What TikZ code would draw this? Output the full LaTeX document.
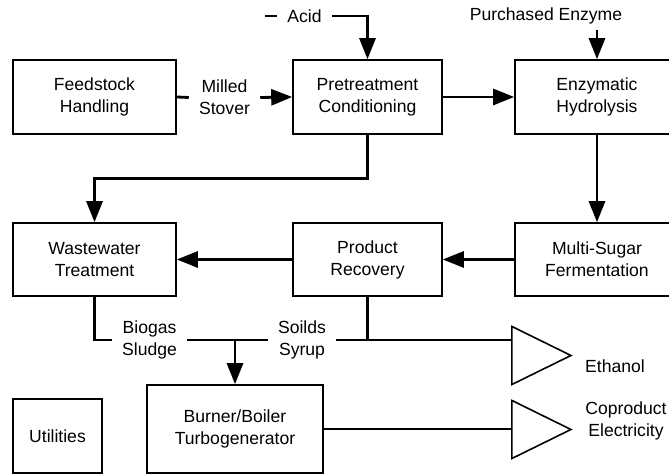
\documentclass[tikz,border=0pt]{standalone}
\usepackage{fontspec}
\setmainfont{Liberation Sans}
\usetikzlibrary{arrows.meta,shapes.geometric}

\begin{document}
\begin{tikzpicture}[
    font=\fontsize{10}{12.5}\selectfont,
    block/.style={shape=rectangle, draw, line width=0.9pt, inner sep=0, minimum height=1.48cm, align=center},
    tag/.style={align=center, inner xsep=0.2cm, inner ysep=0.1cm},
    outlet/.style={shape=isosceles triangle, draw, line width=0.9pt, isosceles triangle stretches, inner sep=0, minimum width=1.16cm, minimum height=1.18cm},
    flow/.style={line width=1.6pt},
    flowarrow/.style={flow, -{Triangle[length=0.42cm,width=0.32cm]}}
  ]
  \useasboundingbox (0,0) rectangle (13.38,9.48);
  % Paths, nodes and wires:
  \node[block, minimum width=3.26cm] (handling) at (1.89, 7.54) {Feedstock\\Handling};
  \node[block, minimum width=2.98cm] (pretreat) at (7.35, 7.54) {Pretreatment\\Conditioning};
  \node[block, minimum width=3.28cm] (hydrolysis) at (11.94, 7.54) {Enzymatic\\Hydrolysis};
  \node[block, minimum width=3.26cm, minimum height=1.46cm] (wastewater) at (1.89, 4.29) {Wastewater\\Treatment};
  \node[block, minimum width=2.98cm, minimum height=1.46cm] (recovery) at (7.35, 4.29) {Product\\Recovery};
  \node[block, minimum width=3.28cm, minimum height=1.46cm] (fermentation) at (11.94, 4.29) {Multi-Sugar\\Fermentation};
  \node[block, minimum width=3.52cm, minimum height=1.76cm] (boiler) at (4.70, 0.90) {Burner/Boiler\\Turbogenerator};
  \node[block, minimum width=1.78cm] (utilities) at (1.15, 0.76) {Utilities};
  \node[outlet] (ethanolout) at (10.60, 2.37) {};
  \node[outlet] (powerout) at (10.60, 0.89) {};
  \node[tag] (milled) at (4.49, 7.53) {Milled\\Stover};
  \node[tag] (acid) at (6.09, 9.16) {Acid};
  \node[tag] (enzyme) at (10.92, 9.16) {Purchased Enzyme};
  \node[tag] (biogas) at (2.99, 2.68) {Biogas\\Sludge};
  \node[tag] (soilds) at (6.04, 2.68) {Soilds\\Syrup};
  \node (ethanol) at (12.30, 2.16) {Ethanol};
  \node[align=center] (electricity) at (12.52, 1.07) {Coproduct\\Electricity};
  \coordinate (acidin) at (5.30, 9.16);
  \draw[flow] (handling.east) -- (milled.west);
  \draw[flowarrow] (milled.east) -- (pretreat.west);
  \draw[flow] (acidin) -- (acid.west);
  \draw[flowarrow] (acid.east) -| (pretreat.north);
  \draw[flowarrow] (enzyme.south -| hydrolysis.north) -- (hydrolysis.north);
  \draw[flowarrow] (pretreat.east) -- (hydrolysis.west);
  \draw[flowarrow] (pretreat.south) -- ++(0,-0.88) -| (wastewater.north);
  \draw[flowarrow] (hydrolysis.south) -- (fermentation.north);
  \draw[flowarrow] (fermentation.west) -- (recovery.east);
  \draw[flowarrow] (recovery.west) -- (wastewater.east);
  \draw[flow] (wastewater.south) |- (biogas.west);
  \draw[flow] (biogas.east) -- (soilds.west);
  \draw[flowarrow] (biogas.east -| boiler.north) -- (boiler.north);
  \draw[flow] (soilds.east) -- (soilds.east -| recovery.south);
  \draw[flow] (recovery.south) |- (soilds.east -| ethanolout.west);
  \draw[flow] (boiler.east) -- (boiler.east -| powerout.west);
\end{tikzpicture}
\end{document}
